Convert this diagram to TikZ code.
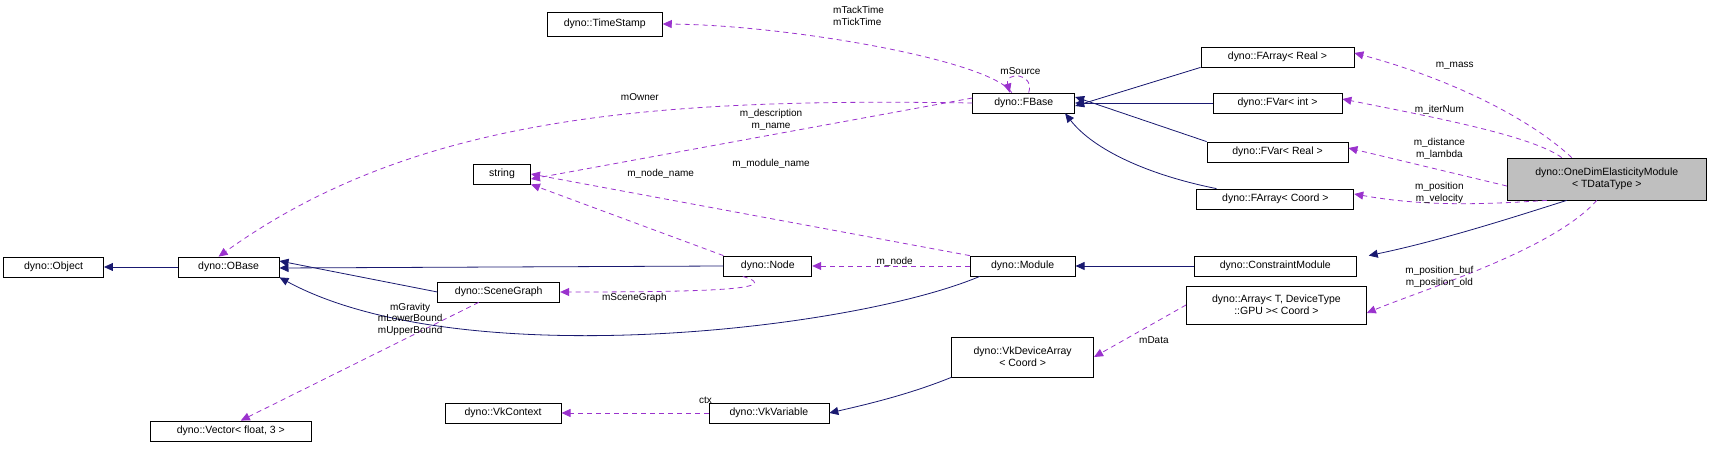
\documentclass[tikz,border=0pt]{standalone}
\usepackage{fontspec}
\setmainfont{Liberation Sans}
\usetikzlibrary{arrows.meta,positioning}
\definecolor{inhcol}{HTML}{191970}
\definecolor{usecol}{HTML}{9A32CD}
\begin{document}
\begin{tikzpicture}[x=1.0938pt,y=-1pt,font=\fontsize{10.5}{12}\selectfont,
  box/.style={draw=black,thick,fill=white,inner sep=2pt,minimum height=20pt,align=center},
  inh/.style={draw=inhcol,thick,-{Triangle[length=9pt,width=8pt]}},
  use/.style={draw=usecol,thick,dashed,dash pattern=on 5pt off 4pt,-{Triangle[length=9pt,width=8pt]}},
  lbl/.style={inner sep=0pt,align=center,font=\fontsize{10}{11.5}\selectfont}]
\useasboundingbox (0,0) rectangle (1568,453);
% classes
\node[box,minimum width=100pt] (object) at (49,267) {dyno::Object};
\node[box,minimum width=101pt] (obase) at (209,267) {dyno::OBase};
\node[box,minimum width=161pt] (vector) at (211,431) {dyno::Vector< float, 3 >};
\node[box,minimum width=57pt] (string) at (459,174) {string};
\node[box,minimum width=122pt] (scenegraph) at (456,292) {dyno::SceneGraph};
\node[box,minimum width=88pt] (node) at (702,266) {dyno::Node};
\node[box,minimum width=105pt] (module) at (935,266) {dyno::Module};
\node[box,minimum width=116pt] (vkcontext) at (460,413) {dyno::VkContext};
\node[box,minimum width=120pt] (vkvariable) at (703,413) {dyno::VkVariable};
\node[box,minimum width=142pt,minimum height=40pt] (vkdevarray) at (935,357) {dyno::VkDeviceArray\\< Coord >};
\node[box,minimum width=115pt,minimum height=24pt] (timestamp) at (553,24) {dyno::TimeStamp};
\node[box,minimum width=102pt] (fbase) at (936,103) {dyno::FBase};
\node[box,minimum width=153pt] (farrreal) at (1168,57) {dyno::FArray< Real >};
\node[box,minimum width=129pt] (fvarint) at (1168,103) {dyno::FVar< int >};
\node[box,minimum width=141pt] (fvarreal) at (1168,152) {dyno::FVar< Real >};
\node[box,minimum width=157pt] (farrcoord) at (1166,199) {dyno::FArray< Coord >};
\node[box,minimum width=162pt] (constraint) at (1166,266) {dyno::ConstraintModule};
\node[box,minimum width=180pt,minimum height=38pt] (arraygpu) at (1167,305) {dyno::Array< T, DeviceType\\::GPU >< Coord >};
\node[box,minimum width=199pt,minimum height=42pt,fill=black!25] (onedim) at (1469,179) {dyno::OneDimElasticityModule\\< TDataType >};
% inheritance
\draw[inh] (obase) -- (object);
\draw[inh] (node.west) -- ([yshift=-1pt]obase.east);
\draw[inh] (scenegraph.west) -- ([yshift=6pt]obase.east);
\draw[inh] ([xshift=10pt]module.south west) .. controls (780,330) and (420,375) .. (obase.south east);
\draw[inh] (vkdevarray.south west) .. controls (830,395) and (790,405) .. (vkvariable.east);
\draw[inh] (farrreal.south west) -- ([yshift=-3pt]fbase.east);
\draw[inh] (fvarint) -- (fvarint -| fbase.east);
\draw[inh] (fvarreal.north west) -- ([yshift=6pt]fbase.east);
\draw[inh] ([xshift=20pt]farrcoord.north west) .. controls (1050,175) and (1000,150) .. ([xshift=-10pt]fbase.south east);
\draw[inh] (constraint) -- (module);
\draw[inh] ([xshift=-40pt]onedim.south) .. controls (1390,215) and (1320,240) .. ([xshift=12pt]constraint.north east);
% usage
\draw[use] (fbase.west) .. controls (600,98) and (380,115) .. ([xshift=-10pt]obase.north);
\draw[use] ([yshift=5pt]fbase.west) -- ([yshift=-5pt]string.east);
\draw[use] (module.north west) -- (string.east);
\draw[use] (node.north west) -- (string.south east);
\draw[use] (module.west) -- (node.east);
\draw[use] ([xshift=-25pt]node.south) .. controls (720,290) and (640,292) .. (scenegraph.east);
\draw[use] ([xshift=-20pt]scenegraph.south) -- ([xshift=10pt]vector.north);
\draw[use] (vkvariable) -- (vkcontext);
\draw[use] (arraygpu.west) -- (vkdevarray.east);
\draw[use] ([xshift=-12pt]fbase.north) .. controls (905,60) and (720,25) .. (timestamp.east);
\draw[use] ([xshift=5pt]fbase.north) .. controls (946,72) and (918,72) .. ([xshift=-14pt]fbase.north);
\draw[use] ([xshift=-35pt]onedim.north) .. controls (1400,120) and (1330,80) .. ([yshift=4pt]farrreal.east);
\draw[use] ([xshift=-45pt]onedim.north) .. controls (1400,135) and (1300,115) .. ([yshift=4pt]fvarint.east);
\draw[use] ([yshift=-7pt]onedim.west) -- ([yshift=4pt]fvarreal.east);
\draw[use] ([xshift=-60pt]onedim.south) .. controls (1350,205) and (1300,206) .. ([yshift=5pt]farrcoord.east);
\draw[use] ([xshift=-10pt]onedim.south) .. controls (1420,250) and (1300,290) .. ([yshift=-8pt]arraygpu.east);
% labels
\node[lbl,align=left] (ltime) at (785,16) {mTackTime\\mTickTime};
\node[lbl] (lsource) at (933,71) {mSource};
\node[lbl] (lowner) at (585,97) {mOwner};
\node[lbl] (ldesc) at (705,120) {m\_description\\m\_name};
\node[lbl] (lmodname) at (705,164) {m\_module\_name};
\node[lbl] (lnodename) at (604,174) {m\_node\_name};
\node[lbl] (lnode) at (818,262) {m\_node};
\node[lbl] (lscene) at (580,298) {mSceneGraph};
\node[lbl] (lgrav) at (375,319) {mGravity\\mLowerBound\\mUpperBound};
\node[lbl] (lctx) at (645,400) {ctx};
\node[lbl] (ldata) at (1055,340) {mData};
\node[lbl] (lmass) at (1330,66) {m\_mass};
\node[lbl] (liter) at (1316,110) {m\_iterNum};
\node[lbl] (ldist) at (1316,149) {m\_distance\\m\_lambda};
\node[lbl] (lpos) at (1316,193) {m\_position\\m\_velocity};
\node[lbl] (lbuf) at (1316,277) {m\_position\_buf\\m\_position\_old};
\end{tikzpicture}
\end{document}
